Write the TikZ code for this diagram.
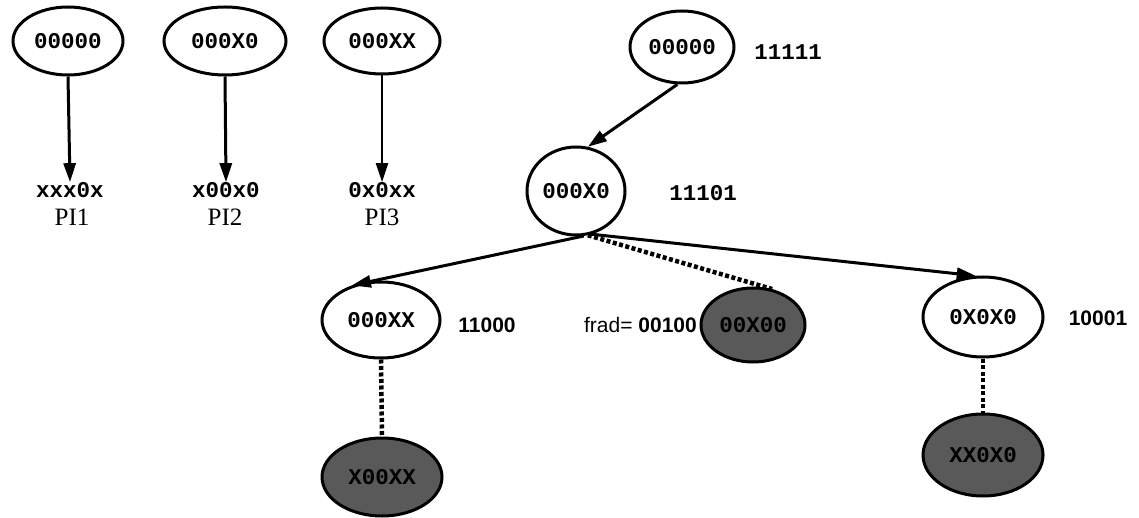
\documentclass[tikz,border=0pt]{standalone}
\usepackage{fontspec}
\setmainfont{Liberation Serif}
\setsansfont{Liberation Sans}
\setmonofont{Liberation Mono}
\usetikzlibrary{shapes.geometric,arrows.meta}
\begin{document}
\begin{tikzpicture}[x=1pt,y=-1pt,
  ov/.style={ellipse,draw,line width=3pt,inner sep=0pt,font=\fontsize{22.5}{26}\selectfont\ttfamily\bfseries},
  dk/.style={ov,fill=black!65},
  code/.style={inner sep=0pt,font=\fontsize{22.5}{26}\selectfont\ttfamily\bfseries},
  scode/.style={inner sep=0pt,font=\fontsize{21}{24}\selectfont\sffamily\bfseries},
  pil/.style={inner sep=0pt,font=\fontsize{25}{28}\selectfont\rmfamily},
  arr/.style={line width=3pt,-{Triangle[length=19pt,width=12pt]}},
  dot/.style={line width=4.5pt,dash pattern=on 4pt off 2.5pt}]
\useasboundingbox (0,0) rectangle (1139,518);
% left three trees
\node[ov,minimum width=110pt,minimum height=68pt] (a1) at (68,41) {00000};
\node[ov,minimum width=122pt,minimum height=68pt] (a2) at (225,41) {000X0};
\node[ov,minimum width=116pt,minimum height=66pt] (a3) at (382,41) {000XX};
\node[code] (b1) at (70,190) {xxx0x};
\node[code] (b2) at (226,190) {x00x0};
\node[code] (b3) at (382,190) {0x0xx};
\node[pil] (p1) at (72,217) {PI1};
\node[pil] (p2) at (225,217) {PI2};
\node[pil] (p3) at (382,217) {PI3};
\draw[arr] (a1.south) -- (b1.north);
\draw[arr] (a2.south) -- (b2.north);
\draw[arr,line width=2pt] (a3.south) -- (b3.north);
% right tree
\node[ov,minimum width=104pt,minimum height=72pt] (r) at (682,47) {00000};
\node[code] (rl) at (788,52) {11111};
\node[ov,minimum width=98pt,minimum height=88pt] (x0) at (576,191) {000X0};
\node[code] (x0l) at (703,193) {11101};
\node[ov,minimum width=118pt,minimum height=76pt] (xx) at (381,320) {000XX};
\node[scode] (xxl) at (487,325) {11000};
\node[dk,minimum width=104pt,minimum height=74pt] (f) at (753,325) {00X00};
\node[inner sep=0pt,anchor=east,font=\fontsize{21}{24}\selectfont\sffamily] (fl) at (697,325) {frad= \textbf{00100}};
\node[ov,minimum width=120pt,minimum height=80pt] (q) at (983,317) {0X0X0};
\node[scode] (ql) at (1098,318) {10001};
\node[dk,minimum width=120pt,minimum height=78pt] (d1) at (382,477) {X00XX};
\node[dk,minimum width=120pt,minimum height=82pt] (d2) at (983,455) {XX0X0};
\draw[arr] (r.-97) -- (x0.75);
\draw[arr] (x0.-80) -- (xx.130);
\draw[dot] (x0.-75) -- (f.62);
\draw[arr] (x0.-70) -- (q.100);
\draw[dot] (xx.south) -- (d1.north);
\draw[dot] (q.south) -- (d2.north);
\end{tikzpicture}
\end{document}
